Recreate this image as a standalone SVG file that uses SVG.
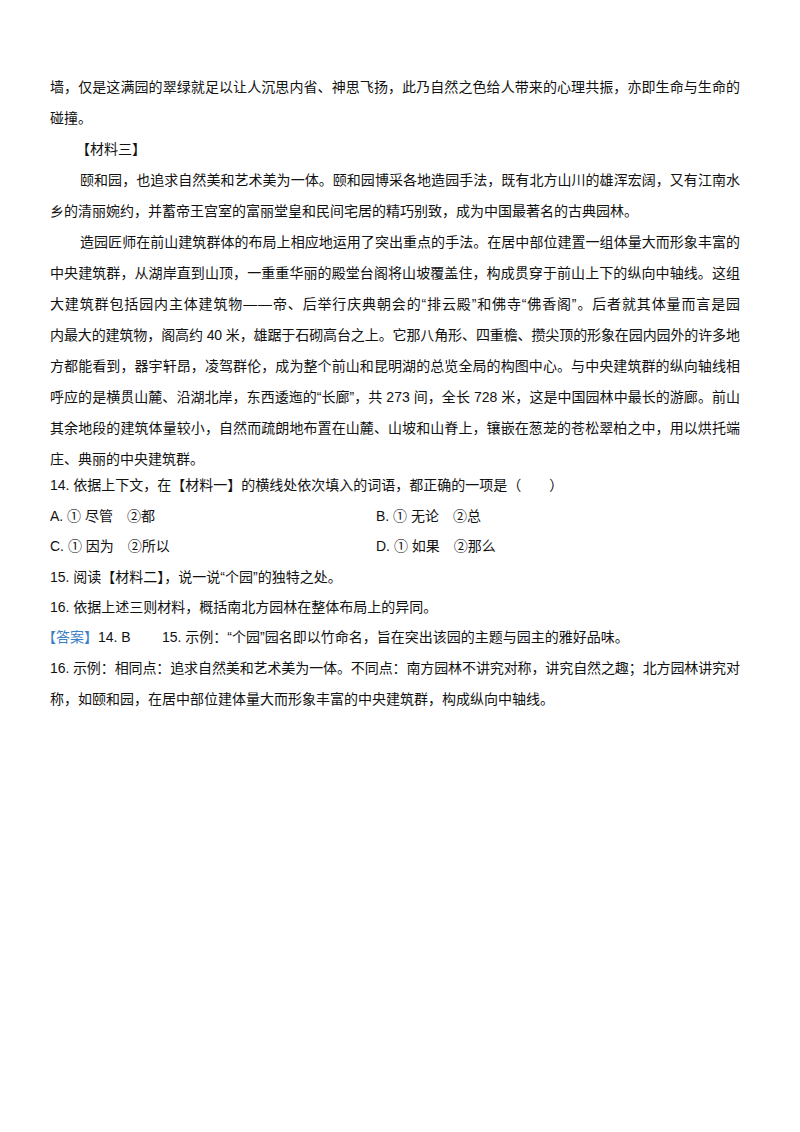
<svg xmlns="http://www.w3.org/2000/svg" width="800" height="1132" viewBox="0 0 800 1132">
<style>
text{font-family:"Liberation Sans","Noto Sans CJK SC",sans-serif;font-size:14px;fill:#111}
.b{fill:#3b7fc4}
</style>
<rect width="800" height="1132" fill="#fff"/>
<g id="body">
<text x="50" y="92" textLength="690" lengthAdjust="spacing">墙，仅是这满园的翠绿就足以让人沉思内省、神思飞扬，此乃自然之色给人带来的心理共振，亦即生命与生命的</text>
<text x="50" y="123">碰撞。</text>
<text x="76" y="154">【材料三】</text>
<text x="80" y="185" textLength="660" lengthAdjust="spacing">颐和园，也追求自然美和艺术美为一体。颐和园博采各地造园手法，既有北方山川的雄浑宏阔，又有江南水</text>
<text x="50" y="216">乡的清丽婉约，并蓄帝王宫室的富丽堂皇和民间宅居的精巧别致，成为中国最著名的古典园林。</text>
<text x="80" y="247" textLength="660" lengthAdjust="spacing">造园匠师在前山建筑群体的布局上相应地运用了突出重点的手法。在居中部位建置一组体量大而形象丰富的</text>
<text x="50" y="278" textLength="690" lengthAdjust="spacing">中央建筑群，从湖岸直到山顶，一重重华丽的殿堂台阁将山坡覆盖住，构成贯穿于前山上下的纵向中轴线。这组</text>
<text x="50" y="309" textLength="690" lengthAdjust="spacing">大建筑群包括园内主体建筑物——帝、后举行庆典朝会的“排云殿”和佛寺“佛香阁”。后者就其体量而言是园</text>
<text x="50" y="340" textLength="690" lengthAdjust="spacing">内最大的建筑物，阁高约 40 米，雄踞于石砌高台之上。它那八角形、四重檐、攒尖顶的形象在园内园外的许多地</text>
<text x="50" y="371" textLength="690" lengthAdjust="spacing">方都能看到，器宇轩昂，凌驾群伦，成为整个前山和昆明湖的总览全局的构图中心。与中央建筑群的纵向轴线相</text>
<text x="50" y="402" textLength="690" lengthAdjust="spacing">呼应的是横贯山麓、沿湖北岸，东西逶迤的“长廊”，共 273 间，全长 728 米，这是中国园林中最长的游廊。前山</text>
<text x="50" y="433" textLength="690" lengthAdjust="spacing">其余地段的建筑体量较小，自然而疏朗地布置在山麓、山坡和山脊上，镶嵌在葱茏的苍松翠柏之中，用以烘托端</text>
<text x="50" y="464">庄、典丽的中央建筑群。</text>
<text x="50" y="490">14. 依据上下文，在【材料一】的横线处依次填入的词语，都正确的一项是（　　）</text>
<text x="50" y="521">A. ① 尽管　②都</text>
<text x="376" y="521">B. ① 无论　②总</text>
<text x="50" y="551">C. ① 因为　②所以</text>
<text x="376" y="551">D. ① 如果　②那么</text>
<text x="50" y="582">15. 阅读【材料二】，说一说“个园”的独特之处。</text>
<text x="50" y="612">16. 依据上述三则材料，概括南北方园林在整体布局上的异同。</text>
<text x="42" y="642"><tspan class="b">【答案】</tspan>14. B</text>
<text x="162" y="642">15. 示例：“个园”园名即以竹命名，旨在突出该园的主题与园主的雅好品味。</text>
<text x="50" y="673" textLength="690" lengthAdjust="spacing">16. 示例：相同点：追求自然美和艺术美为一体。不同点：南方园林不讲究对称，讲究自然之趣；北方园林讲究对</text>
<text x="50" y="704">称，如颐和园，在居中部位建体量大而形象丰富的中央建筑群，构成纵向中轴线。</text>
</g>
</svg>
